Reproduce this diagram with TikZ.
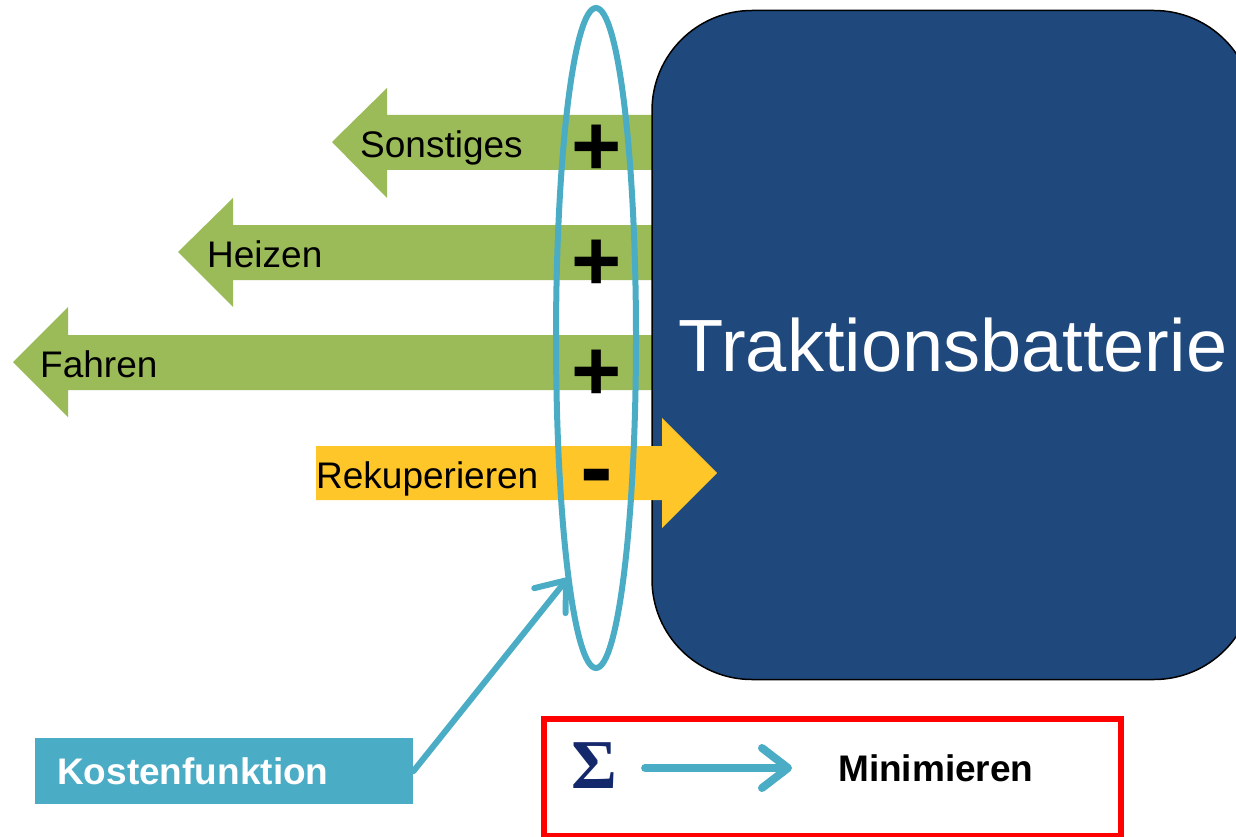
\documentclass[tikz,border=0pt]{standalone}
\usepackage{fontspec}
\setmainfont{Liberation Sans}
\newfontfamily\sigmafont{Liberation Serif}
\usetikzlibrary{arrows.meta,shapes.geometric}
\definecolor{lgreen}{HTML}{9BBB59}
\definecolor{lyellow}{HTML}{FFC629}
\definecolor{bnavy}{HTML}{1F497D}
\definecolor{lcyan}{HTML}{4BACC6}
\definecolor{signavy}{HTML}{14296B}
\begin{document}
\begin{tikzpicture}[x=1pt,y=-1pt,
  greenarrow/.style={fill=lgreen},
  yellowarrow/.style={fill=lyellow},
  flowlabel/.style={anchor=base west,inner sep=0pt,font=\fontsize{37}{40}\selectfont},
  signlabel/.style={anchor=base,inner sep=0pt,font=\fontsize{86}{90}\selectfont\bfseries},
  battery/.style={fill=bnavy,draw=black,line width=1.5pt,rounded corners=100pt,
    minimum width=602pt,minimum height=669pt,inner sep=0pt,text=white,
    font=\fontsize{74}{80}\selectfont},
  sumring/.style={draw=lcyan,line width=6pt,ellipse,minimum width=80pt,minimum height=660pt,inner sep=0pt},
  kfbox/.style={fill=lcyan,text=white,anchor=north west,minimum height=66pt,
    text width=334pt,inner xsep=22pt,inner ysep=0pt,align=left,font=\fontsize{37}{40}\selectfont\bfseries},
  cyanarrow/.style={draw=lcyan,line cap=round,-{Straight Barb[length=26pt,width=40pt,round]}},
]
\useasboundingbox (0,0) rectangle (1236,837);
\begin{scope}
\clip (0,0) rectangle (1236,837);
% green outgoing arrows
\fill[greenarrow] (700,115) -- (387,115) -- (387,88) -- (332,142) -- (387,198) -- (387,170) -- (700,170) -- cycle;
\fill[greenarrow] (700,225) -- (233,225) -- (233,198) -- (178,252) -- (233,307) -- (233,280) -- (700,280) -- cycle;
\fill[greenarrow] (700,335) -- (68,335) -- (68,307) -- (13,362) -- (68,417) -- (68,390) -- (700,390) -- cycle;
% battery
\node[battery] (bat) at (953,345) {Traktionsbatterie};
% yellow incoming arrow
\fill[yellowarrow] (316,446) -- (662,446) -- (662,418) -- (717,473) -- (662,528) -- (662,500) -- (316,500) -- cycle;
\end{scope}
% labels
\node[flowlabel] (son) at (360,158) {Sonstiges};
\node[flowlabel] (hei) at (207,267) {Heizen};
\node[flowlabel] (fah) at (40,377) {Fahren};
\node[flowlabel] (rek) at (316,488) {Rekuperieren};
% sum ellipse
\node[sumring] (sum) at (596,338) {};
% signs
\node[signlabel] (p1) at (597,176) {+};
\node[signlabel] (p2) at (597,290) {+};
\node[signlabel] (p3) at (597,400) {+};
\node[signlabel,font=\fontsize{98}{100}\selectfont\bfseries] (m1) at (597,500) {-};
% cost function
\node[kfbox] (kf) at (35,738) {Kostenfunktion};
\coordinate (kt) at (568,578);
\draw[cyanarrow,line width=6pt] (kf.east) -- (kt);
% minimize box
\node[draw=red,line width=6pt,anchor=north west,minimum width=577pt,minimum height=117pt,inner sep=0pt] (minbox) at (541,716) {};
\node[text=signavy,inner sep=0pt,font=\fontsize{70}{72}\selectfont\sigmafont\bfseries] (sig) at (594,766) {Σ};
\node[flowlabel,font=\fontsize{37}{40}\selectfont\bfseries] (mini) at (838,781) {Minimieren};
\draw[cyanarrow,line width=8pt] ([xshift=28pt,yshift=-2pt]sig.east) -- ([xshift=-46pt,yshift=13pt]mini.base west);
\end{tikzpicture}
\end{document}
